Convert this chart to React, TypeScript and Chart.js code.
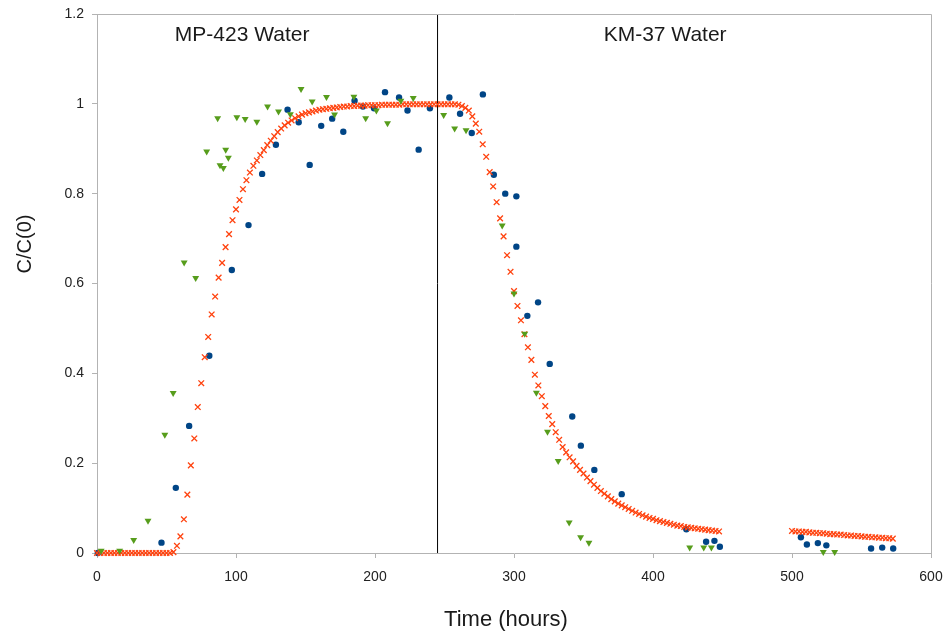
import React, { useEffect, useRef } from "react";
import { Chart, registerables } from "chart.js";

Chart.register(...registerables);

// Measured series: blue circles
const blueTime = [
  0.6, 46.4, 56.7, 66.3, 80.8, 97, 109, 118.8, 128.7, 137.1,
  145.1, 153, 161.3, 169.2, 177.2, 185.3, 191.3, 199.3, 207.2, 217.3,
  223.4, 231.4, 239.5, 253.5, 261.2, 269.6, 277.6, 285.5, 293.7, 301.7,
  301.7, 309.6, 317.3, 325.7, 341.9, 348.1, 357.8, 377.5, 424, 438.2,
  444.2, 448.1, 506.4, 510.7, 518.6, 524.7, 556.9, 564.9, 572.8,
];
const blueValue = [
  0, 0.023, 0.145, 0.283, 0.439, 0.63, 0.73, 0.844, 0.909, 0.987,
  0.959, 0.864, 0.951, 0.967, 0.938, 1.007, 0.994, 0.99, 1.026, 1.014,
  0.985, 0.898, 0.99, 1.014, 0.978, 0.935, 1.021, 0.842, 0.8, 0.794,
  0.682, 0.528, 0.558, 0.421, 0.304, 0.239, 0.185, 0.131, 0.053, 0.025,
  0.027, 0.014, 0.035, 0.019, 0.022, 0.017, 0.01, 0.012, 0.01,
];

// Measured series: green triangles
const greenTime = [
  3, 16.3, 26.4, 36.7, 48.8, 54.8, 62.7, 71, 78.9, 86.8,
  88.5, 90.9, 92.6, 94.5, 100.6, 106.6, 115, 122.7, 130.6, 139.1,
  146.8, 154.8, 165.1, 170.9, 184.8, 193.3, 201, 209, 218.6, 227.5,
  249.4, 257.3, 265.5, 291.5, 300, 307.7, 316.1, 324.1, 331.8, 339.7,
  347.9, 353.9, 426.4, 436.5, 442, 522.5, 530.7,
];
const greenValue = [
  0.005, 0.005, 0.029, 0.072, 0.263, 0.356, 0.647, 0.612, 0.894, 0.968,
  0.863, 0.857, 0.898, 0.88, 0.97, 0.966, 0.96, 0.994, 0.983, 0.977,
  1.033, 1.005, 1.015, 0.976, 1.016, 0.968, 0.985, 0.957, 1.007, 1.013,
  0.975, 0.945, 0.941, 0.729, 0.578, 0.488, 0.357, 0.27, 0.205, 0.068,
  0.035, 0.023, 0.012, 0.012, 0.012, 0.002, 0.002,
];

// Model series: orange crosses
const modelTime = [
  0, 2.5, 5, 7.5, 10, 12.5, 15, 17.5, 20, 22.5,
  25, 27.5, 30, 32.5, 35, 37.5, 40, 42.5, 45, 47.5,
  50, 52.5, 55, 57.5, 60, 62.5, 65, 67.5, 70, 72.5,
  75, 77.5, 80, 82.5, 85, 87.5, 90, 92.5, 95, 97.5,
  100, 102.5, 105, 107.5, 110, 112.5, 115, 117.5, 120, 122.5,
  125, 127.5, 130, 132.5, 135, 137.5, 140, 142.5, 145, 147.5,
  150, 152.5, 155, 157.5, 160, 162.5, 165, 167.5, 170, 172.5,
  175, 177.5, 180, 182.5, 185, 187.5, 190, 192.5, 195, 197.5,
  200, 202.5, 205, 207.5, 210, 212.5, 215, 217.5, 220, 222.5,
  225, 227.5, 230, 232.5, 235, 237.5, 240, 242.5, 245, 247.5,
  250, 252.5, 255, 257.5, 260, 262.5, 265, 267.5, 270, 272.5,
  275, 277.5, 280, 282.5, 285, 287.5, 290, 292.5, 295, 297.5,
  300, 302.5, 305, 307.5, 310, 312.5, 315, 317.5, 320, 322.5,
  325, 327.5, 330, 332.5, 335, 337.5, 340, 342.5, 345, 347.5,
  350, 352.5, 355, 357.5, 360, 362.5, 365, 367.5, 370, 372.5,
  375, 377.5, 380, 382.5, 385, 387.5, 390, 392.5, 395, 397.5,
  400, 402.5, 405, 407.5, 410, 412.5, 415, 417.5, 420, 422.5,
  425, 427.5, 430, 432.5, 435, 437.5, 440, 442.5, 445, 447.5,
  500, 502.5, 505, 507.5, 510, 512.5, 515, 517.5, 520, 522.5,
  525, 527.5, 530, 532.5, 535, 537.5, 540, 542.5, 545, 547.5,
  550, 552.5, 555, 557.5, 560, 562.5, 565, 567.5, 570, 572.5,
];
const modelValue = [
  0, 0, 0, 0, 0, 0, 0, 0, 0, 0,
  0, 0, 0, 0, 0, 0, 0, 0, 0, 0,
  0, 0, 0.002, 0.016, 0.037, 0.075, 0.13, 0.195, 0.255, 0.325,
  0.378, 0.436, 0.481, 0.531, 0.571, 0.613, 0.646, 0.681, 0.71, 0.741,
  0.765, 0.786, 0.81, 0.83, 0.847, 0.862, 0.874, 0.886, 0.897, 0.908,
  0.918, 0.928, 0.937, 0.945, 0.952, 0.958, 0.963, 0.968, 0.972, 0.976,
  0.979, 0.981, 0.983, 0.985, 0.987, 0.988, 0.989, 0.99, 0.991, 0.992,
  0.993, 0.994, 0.994, 0.995, 0.995, 0.996, 0.996, 0.996, 0.997, 0.997,
  0.997, 0.997, 0.998, 0.998, 0.998, 0.998, 0.998, 0.998, 0.999, 0.999,
  0.999, 0.999, 0.999, 0.999, 0.999, 0.999, 0.999, 0.999, 0.999, 0.999,
  0.999, 0.999, 0.999, 0.999, 0.998, 0.995, 0.991, 0.985, 0.972, 0.956,
  0.938, 0.91, 0.882, 0.848, 0.816, 0.781, 0.745, 0.705, 0.663, 0.626,
  0.583, 0.55, 0.518, 0.487, 0.458, 0.43, 0.397, 0.373, 0.349, 0.327,
  0.305, 0.287, 0.269, 0.252, 0.236, 0.224, 0.213, 0.204, 0.194, 0.185,
  0.177, 0.168, 0.16, 0.152, 0.145, 0.138, 0.132, 0.126, 0.12, 0.115,
  0.11, 0.106, 0.102, 0.098, 0.094, 0.09, 0.087, 0.084, 0.081, 0.078,
  0.076, 0.073, 0.071, 0.069, 0.067, 0.065, 0.063, 0.061, 0.06, 0.058,
  0.057, 0.056, 0.055, 0.054, 0.053, 0.052, 0.051, 0.05, 0.049, 0.048,
  0.049, 0.048, 0.048, 0.047, 0.047, 0.046, 0.045, 0.045, 0.044, 0.044,
  0.043, 0.042, 0.042, 0.041, 0.041, 0.04, 0.039, 0.039, 0.038, 0.038,
  0.037, 0.036, 0.036, 0.035, 0.035, 0.034, 0.034, 0.033, 0.033, 0.032,
];

// Divider between the two water phases
const dividerTime = [245, 245];
const dividerValue = [0, 1.2];

// Phase labels
const phaseLabels = ["MP-423 Water", "KM-37 Water"];
const phaseLabelTime = [56, 364.5];
const phaseLabelValue = [1.153, 1.153];

const xTitle = "Time (hours)";
const yTitle = "C/C(0)";

const FONT = "'Liberation Sans', Arial, sans-serif";

const pts = (xs: number[], ys: number[]) => xs.map((x, i) => ({ x, y: ys[i] }));

const decorPlugin = {
  id: "decor",
  afterDraw(chart: any) {
    const { ctx, chartArea, scales } = chart;
    ctx.save();
    // frame top & right
    ctx.strokeStyle = "#b3b3b3";
    ctx.lineWidth = 1;
    ctx.beginPath();
    ctx.moveTo(chartArea.left, chartArea.top + 0.5);
    ctx.lineTo(chartArea.right + 0.5, chartArea.top + 0.5);
    ctx.lineTo(chartArea.right + 0.5, chartArea.bottom);
    ctx.stroke();
    // phase labels
    ctx.fillStyle = "#1a1a1a";
    ctx.font = `21px ${FONT}`;
    ctx.textAlign = "left";
    ctx.textBaseline = "middle";
    phaseLabels.forEach((t, i) => {
      ctx.fillText(
        t,
        scales.x.getPixelForValue(phaseLabelTime[i]),
        scales.y.getPixelForValue(phaseLabelValue[i])
      );
    });
    // axis titles
    ctx.font = `22px ${FONT}`;
    ctx.textAlign = "center";
    ctx.fillText(xTitle, 506, 620);
    ctx.translate(25, 244);
    ctx.rotate(-Math.PI / 2);
    ctx.font = `20px ${FONT}`;
    ctx.fillText(yTitle, 0, 0);
    ctx.restore();
  },
};

export default function App() {
  const ref = useRef<HTMLCanvasElement | null>(null);
  useEffect(() => {
    document.body.style.margin = "0";
    const canvas = ref.current;
    if (!canvas) return;
    const chart = new Chart(canvas, {
      type: "scatter",
      data: {
        datasets: [
          {
            label: "Divider",
            type: "line",
            data: pts(dividerTime, dividerValue),
            borderColor: "#000000",
            borderWidth: 1,
            pointRadius: 0,
            showLine: true,
            order: 4,
          } as any,
          {
            label: "Blue",
            data: pts(blueTime, blueValue),
            pointStyle: "circle",
            pointRadius: 3.2,
            backgroundColor: "#004586",
            borderColor: "#004586",
            borderWidth: 0,
            clip: false,
            order: 3,
          },
          {
            label: "Model",
            data: pts(modelTime, modelValue),
            pointStyle: "crossRot",
            pointRadius: 4,
            borderColor: "#ff420e",
            backgroundColor: "#ff420e",
            borderWidth: 1.3,
            clip: false,
            order: 2,
          },
          {
            label: "Green",
            data: pts(greenTime, greenValue),
            pointStyle: "triangle",
            rotation: 180,
            pointRadius: 4,
            backgroundColor: "#579d1c",
            borderColor: "#579d1c",
            borderWidth: 0,
            clip: false,
            order: 1,
          } as any,
        ],
      },
      options: {
        animation: false,
        responsive: false,
        layout: { padding: { top: 14, right: 15, left: 0, bottom: 0 } },
        plugins: {
          legend: { display: false },
          tooltip: { enabled: false },
        },
        scales: {
          x: {
            type: "linear",
            min: 0,
            max: 600,
            afterFit: (s: any) => {
              s.height = 83;
              s.paddingLeft = 0;
              s.paddingRight = 0;
            },
            ticks: {
              stepSize: 100,
              color: "#222",
              padding: 11,
              font: { family: FONT, size: 14 },
              maxRotation: 0,
            },
            grid: {
              drawOnChartArea: false,
              drawTicks: true,
              tickLength: 5,
              color: "#b3b3b3",
            },
            border: { color: "#b3b3b3" },
          },
          y: {
            type: "linear",
            min: 0,
            max: 1.2,
            afterFit: (s: any) => {
              s.width = 97;
              s.paddingTop = 0;
              s.paddingBottom = 0;
            },
            ticks: {
              stepSize: 0.2,
              color: "#222",
              padding: 8,
              font: { family: FONT, size: 14 },
              callback: (v: any) => String(Math.round(Number(v) * 10) / 10),
            },
            grid: {
              drawOnChartArea: false,
              drawTicks: true,
              tickLength: 5,
              color: "#b3b3b3",
            },
            border: { color: "#b3b3b3" },
          },
        },
      },
      plugins: [decorPlugin],
    });
    return () => chart.destroy();
  }, []);
  return (
    <div style={{ width: 946, height: 636 }}>
      <canvas ref={ref} width={946} height={636} />
    </div>
  );
}
